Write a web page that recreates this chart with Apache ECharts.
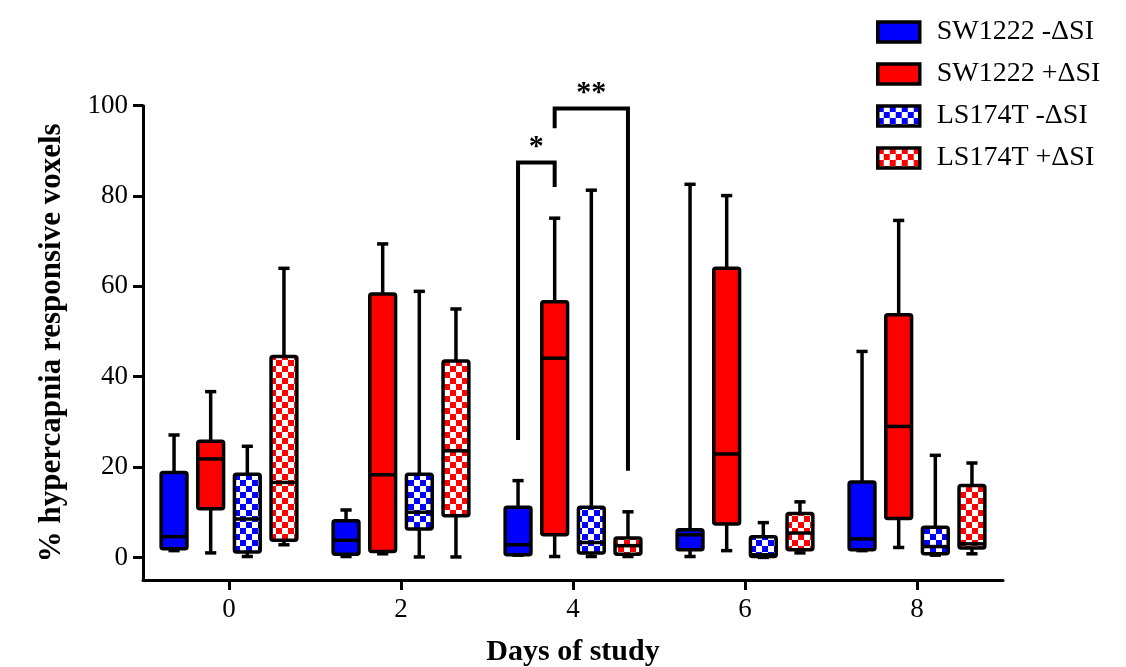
<!DOCTYPE html>
<html>
<head>
<meta charset="utf-8">
<script src="https://cdn.jsdelivr.net/npm/echarts@6/dist/echarts.min.js"></script>
<style>html,body{margin:0;padding:0;background:#fff}#c{width:1126px;height:667px}</style>
</head>
<body>
<div id="c"></div>
<script>
// ---- data ----
const days = [0, 2, 4, 6, 8];
const seriesNames = ['SW1222 -ΔSI', 'SW1222 +ΔSI', 'LS174T -ΔSI', 'LS174T +ΔSI'];
// each row: [min, q1, median, q3, max] for the matching day
const sw1222Minus = [[1.5,1.9,4.6,18.8,27.1],[0.2,0.7,3.8,8.1,10.5],[0.5,0.6,2.8,11.1,17.0],[0.2,1.7,5.0,6.1,82.6],[1.5,1.7,4.1,16.7,45.6]];
const sw1222Plus  = [[1.0,10.8,21.8,25.7,36.7],[0.8,1.3,18.3,58.3,69.4],[0.2,5.0,44.1,56.6,75.1],[1.5,7.4,22.9,64.0,80.1],[2.2,8.6,29.0,53.7,74.6]];
const ls174tMinus = [[0.2,1.2,8.5,18.4,24.6],[0.1,6.3,10.0,18.4,58.9],[0.2,1.0,3.3,11.1,81.3],[0.0,0.2,0.6,4.6,7.7],[0.5,0.8,2.4,6.7,22.6]];
const ls174tPlus  = [[2.8,3.8,16.6,44.5,64.0],[0.1,9.2,23.6,43.5,55.0],[0.2,0.7,2.6,4.3,10.1],[1.0,1.7,5.4,9.7,12.3],[0.8,2.1,3.0,15.9,20.9]];
const yTicks = [0, 20, 40, 60, 80, 100];
const xTicks = [0, 2, 4, 6, 8];
// significance brackets: [day, fromSeries, toSeries, leftEnd, top, rightEnd]
const brackets = [[4, 0, 1, 26, 87.4, 82], [4, 1, 3, 95, 99.4, 19.2]];
const bracketLabels = ['*', '**'];

// ---- layout / style ----
const offsets = [-0.639, -0.213, 0.213, 0.639];
const boxW = 0.30;
const capW = 0.13;
const FONT = 'Liberation Serif, Times New Roman, serif';
const LW = 3.5;

function checker(color) {
  const c = document.createElement('canvas');
  c.width = 12; c.height = 12;
  const g = c.getContext('2d');
  g.fillStyle = '#fff'; g.fillRect(0, 0, 12, 12);
  g.fillStyle = color; g.fillRect(0, 0, 6, 6); g.fillRect(6, 6, 6, 6);
  return { image: c, repeat: 'repeat' };
}
const fills = ['#0000ff', '#ff0000', checker('#0000ff'), checker('#ff0000')];
const allData = [sw1222Minus, sw1222Plus, ls174tMinus, ls174tPlus];

function renderBox(params, api) {
  const si = params.seriesIndex;
  const x = api.value(0) + offsets[si];
  const pMin = api.coord([x, api.value(1)]);
  const pQ1 = api.coord([x, api.value(2)]);
  const pMed = api.coord([x, api.value(3)]);
  const pQ3 = api.coord([x, api.value(4)]);
  const pMax = api.coord([x, api.value(5)]);
  const half = api.size([boxW, 0])[0] / 2;
  const capHalf = api.size([capW, 0])[0] / 2;
  const cx = pQ1[0];
  const ls = { stroke: '#000', lineWidth: LW };
  return {
    type: 'group',
    children: [
      { type: 'line', shape: { x1: cx, y1: pMax[1], x2: cx, y2: pQ3[1] }, style: ls },
      { type: 'line', shape: { x1: cx, y1: pQ1[1], x2: cx, y2: pMin[1] }, style: ls },
      { type: 'line', shape: { x1: cx - capHalf, y1: pMax[1], x2: cx + capHalf, y2: pMax[1] }, style: ls },
      { type: 'line', shape: { x1: cx - capHalf, y1: pMin[1], x2: cx + capHalf, y2: pMin[1] }, style: ls },
      { type: 'rect', shape: { x: cx - half, y: pQ3[1], width: half * 2, height: pQ1[1] - pQ3[1], r: 2 },
        style: { fill: fills[si], stroke: '#000', lineWidth: LW } },
      { type: 'line', shape: { x1: cx - half, y1: pMed[1], x2: cx + half, y2: pMed[1] }, style: ls }
    ]
  };
}

function renderBracket(params, api) {
  const day = api.value(0);
  const xa = day + offsets[api.value(1)];
  const xb = day + offsets[api.value(2)];
  const a0 = api.coord([xa, api.value(3)]);
  const a1 = api.coord([xa, api.value(4)]);
  const b1 = api.coord([xb, api.value(4)]);
  const b0 = api.coord([xb, api.value(5)]);
  return {
    type: 'group',
    children: [
      { type: 'polyline', shape: { points: [a0, a1, b1, b0] }, style: { stroke: '#000', lineWidth: 4, fill: null, lineJoin: 'miter' } },
      { type: 'text', x: (a1[0] + b1[0]) / 2, y: a1[1] - 15,
        style: { text: bracketLabels[params.dataIndex], fill: '#000', font: 'bold 30px ' + FONT, align: 'center', verticalAlign: 'middle' } }
    ]
  };
}

const series = seriesNames.map((name, si) => ({
  name: name,
  type: 'custom',
  renderItem: renderBox,
  itemStyle: { color: fills[si], borderColor: '#000', borderWidth: 3 },
  encode: { x: 0, y: [1, 2, 3, 4, 5] },
  data: days.map((d, i) => [d].concat(allData[si][i])),
  z: 2
}));
series.push({
  name: 'brackets',
  type: 'custom',
  renderItem: renderBracket,
  encode: { x: 0, y: [3, 4, 5] },
  data: brackets,
  silent: true,
  z: 3
});

const chart = echarts.init(document.getElementById('c'), null, { renderer: 'canvas' });
chart.setOption({
  backgroundColor: '#fff',
  animation: false,
  grid: { left: 143, right: 123, top: 105.7, bottom: 87, containLabel: false, outerBoundsMode: 'none' },
  legend: {
    data: seriesNames,
    orient: 'vertical',
    left: 871,
    top: 13,
    itemWidth: 42,
    itemHeight: 20,
    itemGap: 14,
    icon: 'rect',
    itemStyle: { borderColor: '#000', borderWidth: 3.5 },
    textStyle: { fontFamily: FONT, fontSize: 28, color: '#000', padding: [0, 0, 0, 12] },
    selectedMode: false
  },
  xAxis: {
    type: 'value', min: -1, max: 9,
    name: 'Days of study', nameLocation: 'middle', nameGap: 57,
    nameTextStyle: { fontFamily: FONT, fontSize: 30, fontWeight: 'bold', color: '#000' },
    axisLine: { onZero: false, lineStyle: { color: '#000', width: 3 } },
    axisTick: { customValues: xTicks, length: 10, lineStyle: { color: '#000', width: 3 } },
    axisLabel: { customValues: xTicks, fontFamily: FONT, fontSize: 27, color: '#000', margin: 16 },
    splitLine: { show: false }
  },
  yAxis: {
    type: 'value', min: -5, max: 100,
    name: '% hypercapnia responsive voxels', nameLocation: 'middle', nameGap: 76, nameRotate: 90,
    nameTextStyle: { fontFamily: FONT, fontSize: 31, fontWeight: 'bold', color: '#000' },
    axisLine: { show: true, onZero: false, lineStyle: { color: '#000', width: 3 } },
    axisTick: { show: true, customValues: yTicks, length: 10, lineStyle: { color: '#000', width: 3 } },
    axisLabel: { customValues: yTicks, fontFamily: FONT, fontSize: 27, color: '#000', margin: 15 },
    splitLine: { show: false }
  },
  series: series
});
</script>
</body>
</html>
